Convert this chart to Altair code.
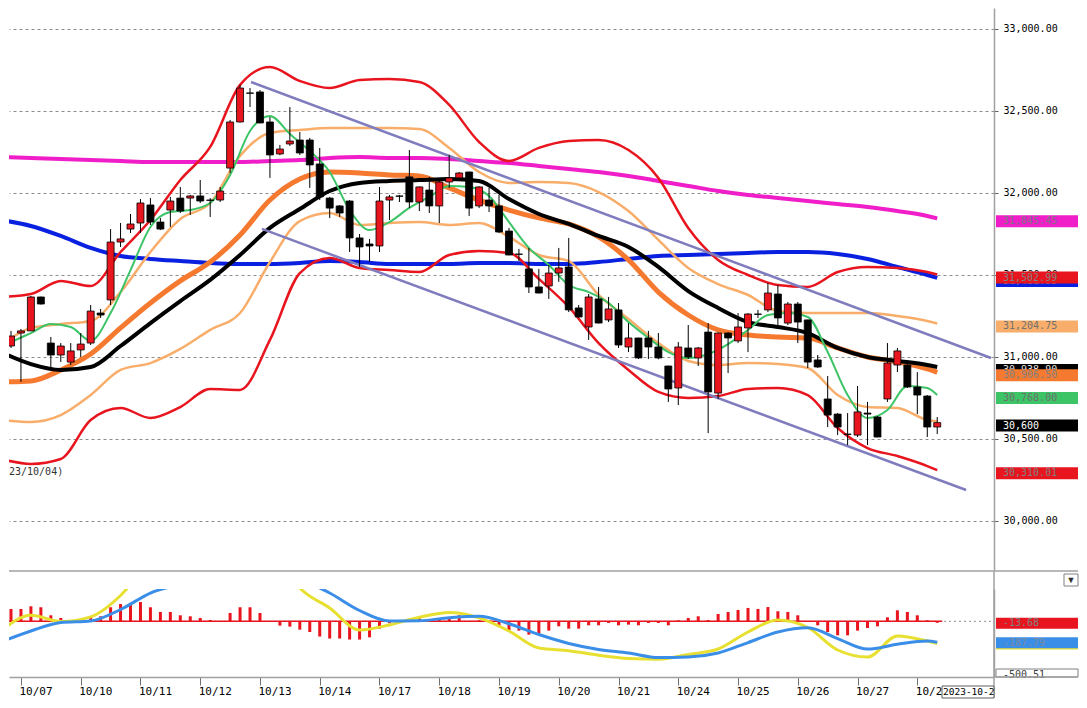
import json
import altair as alt
import pandas as pd

# ------------------------------------------------------------------ data
DAY_LABELS = ["10/07", "10/10", "10/11", "10/12", "10/13", "10/14", "10/17", "10/18",
              "10/19", "10/20", "10/21", "10/24", "10/25", "10/26", "10/27", "10/28"]
DAY_START_BAR = [1, 7, 13, 19, 25, 31, 37, 43, 49, 55, 61, 67, 73, 79, 85, 91]
PRICE_TICKS = [30000, 30500, 31000, 31500, 32000, 32500, 33000]

OPEN = [31067, 31146, 31159, 31366, 31085, 31012, 30969, 31043, 31085, 31268,
        31348, 31701, 31780, 31817, 31927, 31823, 31896, 31969, 31969, 31982,
        31957, 31957, 32152, 32433, 32610, 32616, 32433, 32238, 32299, 32323,
        32323, 32177, 31969, 31921, 31951, 31726, 31689, 31677, 31957, 31982,
        32098, 31945, 32018, 31921, 32067, 32092, 32128, 31921, 31957, 31921,
        31768, 31628, 31537, 31427, 31433, 31512, 31549, 31299, 31183, 31354,
        31226, 31287, 31061, 31116, 31116, 31061, 30945, 30811, 31055, 30994,
        31152, 30780, 31146, 31098, 31177, 31262, 31287, 31384, 31207, 31323,
        31226, 30982, 30744, 30652, 30530, 30524, 30658, 30634, 30744, 30951,
        30951, 30817, 30762, 30573]
HIGH = [31159, 31171, 31372, 31368, 31122, 31085, 31085, 31146, 31317, 31293,
        31780, 31817, 31872, 31963, 31969, 31847, 31976, 32037, 31988, 32079,
        31969, 32037, 32445, 32659, 32640, 32628, 32463, 32293, 32524, 32372,
        32336, 32274, 31976, 31927, 31957, 31750, 31720, 32037, 31988, 31988,
        32262, 32040, 32098, 32085, 32232, 32128, 32130, 32040, 32031, 31988,
        31787, 31659, 31665, 31537, 31561, 31665, 31726, 31317, 31384, 31427,
        31366, 31329, 31207, 31118, 31159, 31146, 30947, 31091, 31195, 31061,
        31207, 31150, 31152, 31268, 31268, 31287, 31451, 31439, 31335, 31335,
        31228, 31012, 30884, 30658, 30658, 30823, 30726, 30640, 31085, 31055,
        30982, 30908, 30768, 30634]
LOW = [31055, 30848, 31159, 31320, 30939, 30969, 30951, 31000, 31073, 31238,
       31317, 31671, 31756, 31756, 31805, 31774, 31793, 31878, 31866, 31939,
       31854, 31945, 32122, 32430, 32524, 32425, 32092, 32230, 32287, 32232,
       32031, 31957, 31847, 31854, 31640, 31549, 31579, 31640, 31835, 31945,
       31908, 31890, 31878, 31817, 32031, 32090, 31860, 31908, 31884, 31756,
       31620, 31585, 31390, 31388, 31354, 31458, 31274, 31238, 31104, 31205,
       31213, 31055, 31030, 30988, 30988, 30986, 30726, 30707, 30988, 30945,
       30536, 30744, 30902, 31085, 31030, 31238, 31274, 31195, 31195, 31085,
       30933, 30933, 30573, 30524, 30463, 30512, 30463, 30510, 30726, 30908,
       30811, 30652, 30512, 30530]
CLOSE = [31128, 31159, 31366, 31323, 31012, 31067, 31037, 31079, 31280, 31256,
         31701, 31720, 31811, 31939, 31823, 31780, 31951, 31890, 31982, 31951,
         31955, 32012, 32433, 32640, 32608, 32427, 32232, 32268, 32317, 32244,
         32171, 31976, 31908, 31878, 31726, 31671, 31677, 31951, 31976, 31980,
         31945, 32037, 31921, 32067, 32092, 32122, 31908, 32037, 31921, 31762,
         31622, 31626, 31427, 31390, 31512, 31543, 31287, 31244, 31366, 31207,
         31293, 31073, 31116, 30994, 31061, 30994, 30805, 31061, 31000, 31055,
         30787, 31146, 31116, 31183, 31262, 31260, 31390, 31238, 31323, 31213,
         30969, 30939, 30646, 30573, 30528, 30665, 30652, 30512, 30963, 31037,
         30817, 30768, 30573, 30600]

# indicator lines, read at these bar positions
LINE_BAR = [-1, 2, 5, 8, 11, 14, 17, 20, 23, 26, 29, 32, 35, 38, 41, 44, 47,
            50, 53, 56, 59, 62, 65, 68, 71, 74, 77, 80, 83, 86, 89, 92, 93]
MA_LONG = [32220, 32214, 32207, 32201, 32195, 32189, 32189, 32189, 32189, 32195, 32201,
           32214, 32220, 32214, 32214, 32207, 32195, 32183, 32165, 32146, 32128, 32104,
           32073, 32043, 32012, 31988, 31970, 31951, 31933, 31915, 31890, 31860, 31845.45]
MA_MID = [31835, 31799, 31738, 31665, 31616, 31598, 31585, 31573, 31567, 31567, 31573,
          31585, 31579, 31567, 31567, 31567, 31573, 31573, 31567, 31567, 31579, 31598,
          31616, 31622, 31628, 31634, 31640, 31640, 31628, 31598, 31549, 31500, 31482]
BB_UP2 = [31366, 31384, 31464, 31433, 31640, 31835, 32079, 32281, 32659, 32768, 32683,
          32640, 32689, 32695, 32677, 32537, 32311, 32195, 32275, 32317, 32323, 32262,
          32092, 31787, 31592, 31500, 31439, 31427, 31518, 31549, 31543, 31518, 31502.99]
BB_UP1 = [31073, 31177, 31201, 31220, 31396, 31640, 31841, 31939, 32226, 32366, 32384,
          32396, 32396, 32396, 32390, 32275, 32128, 32061, 32067, 32061, 32006, 31890,
          31714, 31543, 31445, 31378, 31281, 31268, 31268, 31268, 31250, 31220, 31204.75]
BB_MID = [30848, 30854, 30921, 31018, 31177, 31329, 31464, 31579, 31744, 31957, 32085,
          32128, 32122, 32110, 32104, 32031, 31957, 31896, 31848, 31811, 31732, 31592,
          31396, 31256, 31165, 31134, 31122, 31116, 31055, 31000, 30970, 30927, 30906.5]
BB_LO1 = [30616, 30604, 30646, 30768, 30921, 30963, 31049, 31165, 31268, 31579, 31829,
          31878, 31805, 31817, 31823, 31805, 31817, 31732, 31622, 31585, 31378, 31232,
          31085, 30976, 30951, 30963, 30957, 30933, 30768, 30695, 30689, 30616, 30608.26]
BB_LO2 = [30378, 30348, 30378, 30616, 30689, 30628, 30695, 30805, 30799, 31104, 31512,
          31604, 31543, 31530, 31518, 31622, 31646, 31634, 31476, 31305, 31085, 30921,
          30787, 30750, 30762, 30805, 30811, 30768, 30567, 30445, 30396, 30335, 30310.01]
MA_SHORT2 = [31030, 30957, 30921, 30939, 31067, 31207, 31341, 31470, 31622, 31787, 31902,
             32012, 32061, 32073, 32079, 32085, 32073, 31963, 31872, 31811, 31738, 31671,
             31549, 31402, 31299, 31213, 31183, 31146, 31055, 31000, 30976, 30951, 30938.9]

# fast average, read at every second bar
FAST_BAR = [0, 2, 4, 6, 8, 10, 12, 14, 16, 18, 20, 22, 24, 26, 28, 30, 32, 34, 36, 38,
            40, 42, 44, 46, 48, 50, 52, 54, 56, 58, 60, 62, 64, 66, 68, 70, 72, 74, 76,
            78, 80, 82, 84, 86, 88, 90, 92, 93]
MA_FAST = [31091, 31146, 31201, 31183, 31098, 31268, 31530, 31793, 31884, 31896,
           31939, 32110, 32378, 32470, 32360, 32256, 32128, 31896, 31774, 31823,
           31909, 31976, 32043, 32037, 31982, 31823, 31665, 31561, 31439, 31396,
           31329, 31213, 31116, 31030, 30994, 31018, 31079, 31165, 31256, 31268,
           31244, 31030, 30768, 30628, 30677, 30823, 30811, 30768]

TREND_UP_BAR = [24.1, 98.4]
TREND_UP_VAL = [32677, 30994]
TREND_DN_BAR = [25.2, 95.9]
TREND_DN_VAL = [31781, 30189]

MACD_HIST = [111, 111, 135, 126, 54, 30, 0, 6, 39, 45,
             126, 155, 164, 173, 126, 84, 84, 54, 45, 30,
             12, 2, 75, 126, 126, 75, -2, -39, -48, -75,
             -96, -137, -155, -155, -164, -164, -144, -66, -18, -3,
             9, 30, 15, 30, 36, 54, 3, 9, 9, -51,
             -84, -84, -120, -120, -84, -45, -66, -66, -36, -36,
             -15, -36, -30, -36, -15, -15, -36, 9, 30, 45,
             12, 66, 84, 102, 120, 111, 128, 90, 84, 54,
             -3, -36, -96, -126, -126, -84, -60, -45, 36, 99,
             84, 54, 9, -13.68]
MACD_LINE = [-87, 54, -2, 40, 232, 551, 820, 910, 865, 686, 299, 119, -78, -33, 36, 79, 31,
             -87, -240, -264, -305, -334, -341, -298, -249, -96, 12, -56, -258, -321, -132,
             -177, -199]
MACD_SIGNAL = [-186, -87, -11, 3, 106, 254, 340, 480, 520, 470, 380, 254, 97, 3, 5, 32, 45,
               -22, -119, -199, -253, -285, -326, -321, -285, -191, -96, -58, -155, -250,
               -206, -177, -189]

PRICE_TAGS = [  # value, text, style key
    (31845.45, "31,845.45", "long"),
    (31481.55, "31,481.55", "mid"),
    (31502.99, "31,502.99", "bb2"),
    (31204.75, "31,204.75", "bb1"),
    (30938.90, "30,938.90", "ma25"),
    (30906.50, "30,906.50", "bbmid"),
    (30768.00, "30,768.00", "fast"),
    (30600.00, "30,600", "last"),
    (30310.01, "30,310.01", "bb2"),
]
MACD_TAGS = [
    (-199.70, "-199.70", "macd"),
    (-189.03, "-187.79", "signal"),
    (-13.68, "-13.68", "hist"),
]
MACD_MIN_TAG = (-500.51, "-500.51")
CURSOR_DATE = "2023-10-2"
START_NOTE = "23/10/04)"

# ------------------------------------------------------------------ styles
RED = "#e8141e"
TAG_STYLE = {
    "long": ("#f01ec8", "#7d6f8a"), "mid": ("#0a20e0", "#8080a0"),
    "bb2": (RED, "#808080"), "bb1": ("#f8ae6a", "#707070"),
    "ma25": ("#000000", "#e0e0e0"), "bbmid": ("#f57a30", "#808080"),
    "fast": ("#3cc466", "#707070"), "last": ("#000000", "#ffffff"),
    "macd": ("#e8e030", "#808080"), "signal": ("#3a8ee8", "#7a8aa0"),
    "hist": (RED, "#808080"),
}
MONO = "DejaVu Sans Mono"
W, H_MAIN, H_MACD = 985, 562, 88
RIGHT_EDGE = 1069
xs = alt.Scale(domain=[-0.2, 98.7], nice=False, zero=False, padding=0)
ys = alt.Scale(domain=[29701.2, 33128.0], nice=False, zero=False, padding=0)
ms = alt.Scale(domain=[-500.5, 290.2], nice=False, zero=False, padding=0)


def xq(field):
    return alt.X(field, type="quantitative", scale=xs, axis=None, title=None)


def tag_layers(rows, scale, y0, y1, dy):
    out = []
    for val, txt, key in rows:
        bg, fg = TAG_STYLE[key]
        base = alt.Chart(pd.DataFrame({"v": [val], "t": [txt]}))
        out.append(base.mark_rect(fill=bg, yOffset=y0, y2Offset=y1).encode(
            x=alt.value(987), x2=alt.value(RIGHT_EDGE),
            y=alt.Y("v:Q", scale=scale, title=None), y2="v:Q"))
        out.append(base.mark_text(align="left", baseline="middle", color=fg, font=MONO,
                                  fontSize=10, dy=dy).encode(
            x=alt.value(994), y=alt.Y("v:Q", scale=scale, title=None), text="t:N"))
    return out


# ------------------------------------------------------------------ main panel
candles = pd.DataFrame({"bar": list(range(len(OPEN))), "open": OPEN, "high": HIGH,
                        "low": LOW, "close": CLOSE})

LINES = [
    (LINE_BAR, MA_LONG, "#f01ec8", 4),
    (LINE_BAR, MA_MID, "#0a20e0", 4),
    (LINE_BAR, BB_UP2, RED, 2.5),
    (LINE_BAR, BB_LO2, RED, 2.5),
    (LINE_BAR, BB_UP1, "#f8ae6a", 2.5),
    (LINE_BAR, BB_LO1, "#f8ae6a", 2.5),
    (LINE_BAR, BB_MID, "#f57a30", 5),
    (LINE_BAR, MA_SHORT2, "#000000", 4),
    (FAST_BAR, MA_FAST, "#3cc466", 2),
]
line_layers = []
for bars, vals, col, wdt in LINES:
    df = pd.DataFrame({"bar": bars, "value": vals})
    line_layers.append(alt.Chart(df).mark_line(color=col, strokeWidth=wdt, clip=True,
                                               interpolate="monotone", strokeJoin="round").encode(
        x=xq("bar"), y=alt.Y("value:Q", scale=ys, title=None)))

trend_layers = []
for bars, vals in [(TREND_UP_BAR, TREND_UP_VAL), (TREND_DN_BAR, TREND_DN_VAL)]:
    df = pd.DataFrame({"bar": bars, "value": vals})
    trend_layers.append(alt.Chart(df).mark_line(color="#7f7dbd", strokeWidth=2.5, clip=True).encode(
        x=xq("bar"), y=alt.Y("value:Q", scale=ys, title=None)))

wicks = alt.Chart(candles).mark_rule(color="#000000", strokeWidth=1, clip=True).encode(
    x=xq("bar"),
    y=alt.Y("low:Q", scale=ys, title=None,
            axis=alt.Axis(orient="right", values=PRICE_TICKS, format=",.2f", grid=True,
                          gridDash=[3, 3], gridColor="#8c8c8c", gridWidth=1,
                          domainColor="#a0a0a0", domainWidth=1.5, tickColor="#606060",
                          tickSize=4, labelFont=MONO, labelFontSize=10, labelColor="#000000",
                          labelPadding=5, labelBaseline="middle")),
    y2="high:Q")
bodies = alt.Chart(candles).mark_bar(size=7, stroke="#000000", strokeWidth=0.8, clip=True).encode(
    x=xq("bar"),
    y=alt.Y("open:Q", scale=ys, title=None),
    y2="close:Q",
    fill=alt.condition("datum.close > datum.open", alt.value(RED), alt.value("#000000")))

note = alt.Chart(pd.DataFrame({"t": [START_NOTE]})).mark_text(
    align="left", baseline="middle", font=MONO, fontSize=10, color="#333333").encode(
    x=alt.value(0), y=alt.value(464), text="t:N")

main = alt.layer(*line_layers, *trend_layers, wicks, bodies, note,
                 *tag_layers(PRICE_TAGS, ys, -3, 9, 3)).properties(width=W, height=H_MAIN)

# ------------------------------------------------------------------ MACD panel
hist_df = pd.DataFrame({"bar": list(range(len(MACD_HIST))), "hist": MACD_HIST,
                        "zero": [0] * len(MACD_HIST)})
zero_df = pd.DataFrame({"v": [0], "x0": [-0.2], "x1": [len(MACD_HIST) - 0.5]})

label_expr = f"{json.dumps(DAY_LABELS)}[indexof({json.dumps(DAY_START_BAR)}, datum.value)]"

dotted = alt.Chart(zero_df).mark_rule(color="#909090", strokeDash=[2, 3]).encode(
    x=alt.value(0), x2=alt.value(W),
    y=alt.Y("v:Q", scale=ms, title=None,
            axis=alt.Axis(orient="right", labels=False, ticks=False, grid=False,
                          domainColor="#a0a0a0", domainWidth=1.5)))
hist = alt.Chart(hist_df).mark_bar(size=3, color=RED, clip=True).encode(
    x=alt.X("bar:Q", scale=xs, title=None,
            axis=alt.Axis(values=DAY_START_BAR, labelExpr=label_expr, tickSize=8,
                          tickColor="#707070", domainColor="#a0a0a0", domainWidth=1.5,
                          labelFont=MONO, labelFontSize=11, labelColor="#000000",
                          labelAlign="left", labelBaseline="top", labelPadding=0,
                          labelOffset=-2, labelOverlap=False, labelFlush=False, grid=False)),
    y=alt.Y("hist:Q", scale=ms, title=None), y2="zero:Q")
zero_red = alt.Chart(zero_df).mark_rule(color=RED, strokeWidth=1.5).encode(
    x=alt.X("x0:Q", scale=xs, title=None), x2="x1:Q", y=alt.Y("v:Q", scale=ms, title=None))

macd_layers = []
for vals, col in [(MACD_LINE, "#e8e030"), (MACD_SIGNAL, "#3a8ee8")]:
    df = pd.DataFrame({"bar": LINE_BAR, "value": vals})
    macd_layers.append(alt.Chart(df).mark_line(color=col, strokeWidth=3, clip=True,
                                               interpolate="monotone").encode(
        x=alt.X("bar:Q", scale=xs, title=None), y=alt.Y("value:Q", scale=ms, title=None)))

min_df = pd.DataFrame({"v": [MACD_MIN_TAG[0]], "t": [MACD_MIN_TAG[1]]})
min_box = alt.Chart(min_df).mark_rect(fill="#ffffff", stroke="#808080", strokeWidth=1,
                                      yOffset=-8, y2Offset=0).encode(
    x=alt.value(987), x2=alt.value(RIGHT_EDGE), y=alt.Y("v:Q", scale=ms, title=None), y2="v:Q")
min_txt = alt.Chart(min_df).mark_text(align="left", baseline="middle", font=MONO, fontSize=10,
                                      color="#404040", dy=-2).encode(
    x=alt.value(994), y=alt.Y("v:Q", scale=ms, title=None), text="t:N")

one = pd.DataFrame({"t": [CURSOR_DATE]})
sep_h = alt.Chart(one).mark_rule(color="#a0a0a0", strokeWidth=1.5).encode(
    x=alt.value(0), x2=alt.value(RIGHT_EDGE), y=alt.value(-18))
sep_b = alt.Chart(one).mark_rule(color="#a0a0a0", strokeWidth=1.5).encode(
    x=alt.value(W), x2=alt.value(RIGHT_EDGE), y=alt.value(H_MACD))
sep_v = alt.Chart(one).mark_rule(color="#a0a0a0", strokeWidth=1.5).encode(
    x=alt.value(W), y=alt.value(-18), y2=alt.value(109))
drop_box = alt.Chart(one).mark_rect(fill="#ffffff", stroke="#808080").encode(
    x=alt.value(RIGHT_EDGE - 14), x2=alt.value(RIGHT_EDGE), y=alt.value(-15), y2=alt.value(-3))
drop_txt = alt.Chart(pd.DataFrame({"t": ["▼"]})).mark_text(fontSize=9, color="#303030").encode(
    x=alt.value(RIGHT_EDGE - 7), y=alt.value(-9), text="t:N")
cur_box = alt.Chart(one).mark_rect(fill="#ffffff", stroke="#606060").encode(
    x=alt.value(933), x2=alt.value(985), y=alt.value(97), y2=alt.value(109))
cur_txt = alt.Chart(one).mark_text(align="left", baseline="middle", font=MONO, fontSize=9.5,
                                   color="#000000").encode(
    x=alt.value(934), y=alt.value(103), text="t:N")

macd = alt.layer(dotted, hist, zero_red, *macd_layers,
                 *tag_layers(MACD_TAGS, ms, -5, 6, 0.5), min_box, min_txt,
                 sep_h, sep_b, sep_v, drop_box, drop_txt, cur_box, cur_txt).properties(
    width=W, height=H_MACD)

chart = alt.vconcat(main, macd, spacing=19, bounds="flush").properties(
    padding=0, background="#ffffff").configure_view(stroke=None)

chart.save("out.html", embed_options={"renderer": "svg", "actions": False})
